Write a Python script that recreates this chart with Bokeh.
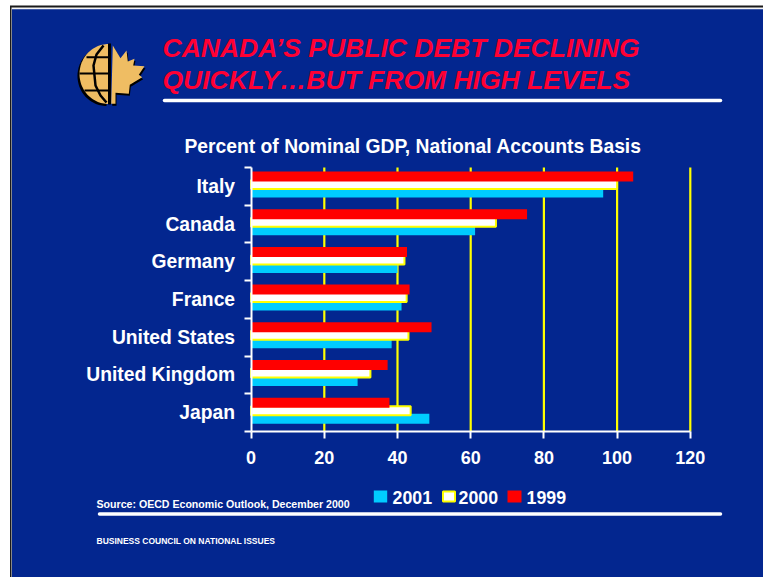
import numpy as np
from bokeh.embed import file_html
from bokeh.models import FixedTicker, Label, LinearAxis, Range1d
from bokeh.plotting import figure
from bokeh.resources import INLINE

# Government debt as a share of nominal GDP
countries = ["Italy", "Canada", "Germany", "France", "United States", "United Kingdom", "Japan"]
debt_1999 = [104.4, 75.4, 42.6, 43.3, 49.3, 37.3, 37.8]
debt_2000 = [100.0, 66.9, 41.9, 42.5, 43.0, 32.6, 43.6]
debt_2001 = [96.2, 61.2, 40.0, 41.1, 38.4, 29.1, 48.7]
x_ticks = [0, 20, 40, 60, 80, 100, 120]

title_lines = ["CANADA\u2019S PUBLIC DEBT DECLINING", "QUICKLY\u2026BUT FROM HIGH LEVELS"]
subtitle = "Percent of Nominal GDP, National Accounts Basis"
source_note = "Source: OECD Economic Outlook, December 2000"
footer = "BUSINESS COUNCIL ON NATIONAL ISSUES"

W, H = 763, 577
BLUE = "#03268f"
RED = "#ff0000"
CYAN = "#00ccff"
YELLOW = "#ffff00"
GOLD = "#efbd63"
FONT = "Liberation Sans"

# The frame fills the page; these scales put the axes where they sit on the slide.
PX_PER_UNIT_X = 3.66
PX_PER_ROW = 37.7
X0, Y0 = 250.6, 167.0

p = figure(
    width=W, height=H, output_backend="svg", toolbar_location=None,
    x_range=Range1d(-X0 / PX_PER_UNIT_X, (W - X0) / PX_PER_UNIT_X),
    y_range=Range1d((H - Y0) / PX_PER_ROW, -Y0 / PX_PER_ROW),
    x_axis_location=None, y_axis_location=None,
    min_border=0, min_border_left=0, min_border_right=0, min_border_top=0, min_border_bottom=0,
    background_fill_color="white", border_fill_color="white", outline_line_color=None,
)
p.grid.visible = False
p.extra_x_ranges["px"] = Range1d(0, W)
p.extra_y_ranges["px"] = Range1d(H, 0)
PX = dict(x_range_name="px", y_range_name="px")


def rect(left, top, right, bottom, color, level="glyph", **kw):
    p.quad(left=left, right=right, top=top, bottom=bottom, fill_color=color,
           line_color=None, level=level, **PX, **kw)


def text(x, y, s, size, color="white", style="bold", align="left"):
    p.add_layout(Label(x=x, y=y, text=s, text_font=FONT, text_font_size=f"{size}px",
                       text_font_style=style, text_color=color, text_align=align,
                       text_baseline="middle", **PX))


# Slide background with its thin black and white edge
rect(9.5, 5, W, H, "#1a1a1a")
rect(11, 7, W, H, "#f4f4f4")
rect(11.5, 8.7, W, H, BLUE)

# Vertical gridlines, spanning only the rows
grid_x = x_ticks[1:]
p.segment(x0=grid_x, x1=grid_x, y0=[0] * len(grid_x), y1=[len(countries)] * len(grid_x),
          line_color=YELLOW, line_width=2.2)

# Bars: 2001 at the back, then 2000, with 1999 on top
BAR_H = 10 / PX_PER_ROW
WHITE_H = 9 / PX_PER_ROW
PITCH = 8 / PX_PER_ROW
rows = np.arange(len(countries)) + 0.5 - 1.85 / PX_PER_ROW
p.hbar(y=rows + PITCH, left=0, right=debt_2001, height=BAR_H, fill_color=CYAN, line_color=None)
p.hbar(y=rows, left=0, right=debt_2000, height=WHITE_H, fill_color="white",
       line_color=YELLOW, line_width=2)
p.hbar(y=rows - PITCH, left=0, right=debt_1999, height=BAR_H, fill_color=RED, line_color=None)

# Axes: country names sit between the ticks, which mark the row boundaries
x_axis = LinearAxis(fixed_location=len(countries), bounds=(0, 120), ticker=FixedTicker(ticks=x_ticks),
                    axis_line_color="white", axis_line_width=2,
                    major_tick_line_color="white", major_tick_line_width=2,
                    major_tick_in=0, major_tick_out=7, minor_tick_line_color=None,
                    major_label_text_color="white", major_label_text_font=FONT,
                    major_label_text_font_size="18px", major_label_text_font_style="bold",
                    major_label_standoff=13)
p.add_layout(x_axis, "below")

centres = [i + 0.5 for i in range(len(countries))]
y_axis = LinearAxis(fixed_location=0, bounds=(0, len(countries)),
                    ticker=FixedTicker(ticks=centres, minor_ticks=list(range(len(countries) + 1))),
                    major_label_overrides=dict(zip(centres, countries)),
                    axis_line_color="white", axis_line_width=2,
                    major_tick_line_color=None, major_tick_in=0, major_tick_out=0,
                    minor_tick_line_color="white", minor_tick_line_width=2,
                    minor_tick_in=0, minor_tick_out=7,
                    major_label_text_color="white", major_label_text_font=FONT,
                    major_label_text_font_size="19.3px", major_label_text_font_style="bold",
                    major_label_standoff=9)
p.add_layout(y_axis, "left")

# Headline and rules
text(162, 47.5, title_lines[0], 26.5, "#ff0033", "bold italic")
text(162, 79.5, title_lines[1], 26.5, "#ff0033", "bold italic")
text(184, 146, subtitle, 19.3)
p.line(x=[164, 720], y=[100, 100], line_color="white", line_width=3.5, line_cap="round", **PX)
p.line(x=[99, 720], y=[513.5, 513.5], line_color="white", line_width=3.5, line_cap="round", **PX)

# Legend
rect(373.3, 490, 386.7, 502, CYAN)
p.quad(left=442.5, right=454.5, top=491, bottom=501, fill_color="white", line_color=YELLOW,
       line_width=2, **PX)
rect(507, 490, 521, 502, RED)
text(392, 496.5, "2001", 17.8)
text(458, 496.5, "2000", 17.8)
text(526, 496.5, "1999", 17.8)

text(96, 503, source_note, 10.6)
text(96, 540, footer, 8.5)

# Emblem: half globe beside half a maple leaf
t = np.linspace(np.pi / 2, 3 * np.pi / 2, 60)
gx, gy = 108 + 29 * np.cos(t), 73.5 + 30 * np.sin(t)
p.patch(x=gx - 2, y=gy + 2, fill_color="black", line_color=None, **PX)
p.patch(x=gx, y=gy, fill_color=GOLD, line_color=None, **PX)
for y0, half in ((56.7, 22), (73, 29), (90, 24)):
    p.line(x=[108 - half, 108], y=[y0, y0], line_color="black", line_width=2, **PX)
p.line(x=[103, 96, 93, 95, 100, 106], y=[45, 54, 65, 85, 95, 102],
       line_color="black", line_width=2.5, **PX)
p.line(x=[109, 109], y=[43, 104], line_color="black", line_width=3, **PX)
leaf_x = [112.3, 120, 126, 127.3, 134, 132.7, 144, 138.3, 141.7, 129.3, 128.3, 115, 115, 110.7]
leaf_y = [45, 57.7, 50, 61, 58.3, 65, 65.7, 74.3, 76.7, 84.3, 93.3, 92.3, 103.3, 103.3]
p.patch(x=[v + 1 for v in leaf_x], y=[v + 2 for v in leaf_y], fill_color="black", line_color=None, **PX)
p.patch(x=leaf_x, y=leaf_y, fill_color=GOLD, line_color=None, **PX)

open("out.html", "w").write(file_html(p, INLINE))
